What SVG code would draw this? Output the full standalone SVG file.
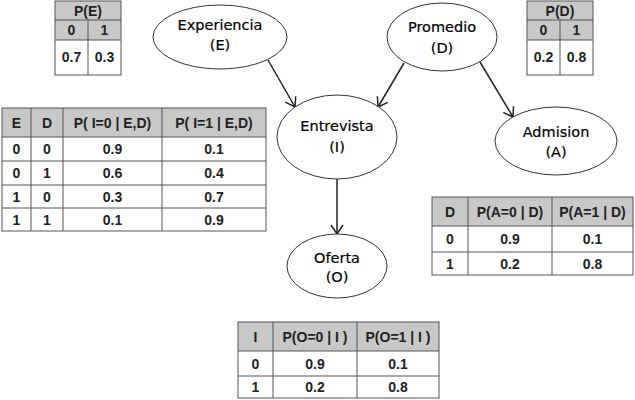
<svg xmlns="http://www.w3.org/2000/svg" width="635" height="400" viewBox="0 0 635 400">
<style>
.bg{fill:#fff}
.node ellipse{fill:#fff;stroke:#333;stroke-width:1}
.node text{font-family:"DejaVu Sans",sans-serif;font-size:14.5px;fill:#000;text-anchor:middle;stroke:#000;stroke-width:0.2}
.hd{fill:#c8c8c8}
.cell{fill:#fff}
.grid{stroke:#555;stroke-width:1;fill:none}
.t text{font-family:"Liberation Sans",Arial,sans-serif;font-size:14px;font-weight:bold;fill:#222;text-anchor:middle;dominant-baseline:central}
.edge{stroke:#222;stroke-width:1.5;fill:none;marker-end:url(#arr)}
</style>
<defs>
<marker id="arr" markerUnits="userSpaceOnUse" markerWidth="16" markerHeight="16" refX="12" refY="8" orient="auto">
<path d="M3,2 L12,8 L3,14" fill="none" stroke="#222" stroke-width="1.5"/>
</marker>
</defs>
<rect class="bg" x="0" y="0" width="635" height="400"/>

<g id="connectors">
<line class="edge" x1="268" y1="60" x2="295" y2="107"/>
<line class="edge" x1="404" y1="63" x2="378" y2="107"/>
<line class="edge" x1="337" y1="179" x2="337" y2="234"/>
<line class="edge" x1="480" y1="62" x2="513" y2="117"/>
</g>

<g id="node-E" class="node">
<ellipse cx="220" cy="37" rx="67" ry="32"/>
<text x="220" y="30">Experiencia</text>
<text x="220" y="50">(E)</text>
</g>
<g id="node-D" class="node">
<ellipse cx="442" cy="37" rx="55" ry="34"/>
<text x="442" y="32">Promedio</text>
<text x="442" y="53">(D)</text>
</g>
<g id="node-I" class="node">
<ellipse cx="337" cy="137" rx="60" ry="42"/>
<text x="337" y="131">Entrevista</text>
<text x="337" y="152">(I)</text>
</g>
<g id="node-O" class="node">
<ellipse cx="337" cy="266" rx="50" ry="32"/>
<text x="337" y="263">Oferta</text>
<text x="337" y="282">(O)</text>
</g>
<g id="node-A" class="node">
<ellipse cx="556" cy="141" rx="61" ry="34"/>
<text x="556" y="137">Admision</text>
<text x="556" y="157">(A)</text>
</g>

<g id="table-PE" class="t">
<rect class="hd" x="55" y="1" width="66" height="39"/>
<rect class="cell" x="55" y="40" width="66" height="35"/>
<rect class="grid" x="55" y="1" width="66" height="74"/>
<path class="grid" d="M55,20H121M55,40H121M88,20V75"/>
<text x="88" y="11">P(E)</text>
<text x="71.5" y="30">0</text><text x="104.5" y="30">1</text>
<text x="71.5" y="57">0.7</text><text x="104.5" y="57">0.3</text>
</g>

<g id="table-PD" class="t">
<rect class="hd" x="527" y="1" width="66" height="39"/>
<rect class="cell" x="527" y="40" width="66" height="35"/>
<rect class="grid" x="527" y="1" width="66" height="74"/>
<path class="grid" d="M527,20H593M527,40H593M560,20V75"/>
<text x="560" y="11">P(D)</text>
<text x="543.5" y="30">0</text><text x="576.5" y="30">1</text>
<text x="543.5" y="57">0.2</text><text x="576.5" y="57">0.8</text>
</g>

<g id="table-PI" class="t">
<rect class="hd" x="2" y="108" width="264" height="29"/>
<rect class="cell" x="2" y="137" width="264" height="94"/>
<rect class="grid" x="2" y="108" width="264" height="123"/>
<path class="grid" d="M2,137H266M2,161H266M2,185H266M2,208H266M31,108V231M63,108V231M162,108V231"/>
<text x="16.5" y="123">E</text><text x="47" y="123">D</text><text x="112.5" y="123">P( I=0 | E,D)</text><text x="214" y="123">P( I=1 | E,D)</text>
<text x="16.5" y="149">0</text><text x="47" y="149">0</text><text x="112.5" y="149">0.9</text><text x="214" y="149">0.1</text>
<text x="16.5" y="173">0</text><text x="47" y="173">1</text><text x="112.5" y="173">0.6</text><text x="214" y="173">0.4</text>
<text x="16.5" y="196.5">1</text><text x="47" y="196.5">0</text><text x="112.5" y="196.5">0.3</text><text x="214" y="196.5">0.7</text>
<text x="16.5" y="219.5">1</text><text x="47" y="219.5">1</text><text x="112.5" y="219.5">0.1</text><text x="214" y="219.5">0.9</text>
</g>

<g id="table-PA" class="t">
<rect class="hd" x="432" y="197" width="201" height="29"/>
<rect class="cell" x="432" y="226" width="201" height="49"/>
<rect class="grid" x="432" y="197" width="201" height="78"/>
<path class="grid" d="M432,226H633M432,252H633M468,197V275M552,197V275"/>
<text x="450" y="212">D</text><text x="510" y="212">P(A=0 | D)</text><text x="592.5" y="212">P(A=1 | D)</text>
<text x="450" y="239">0</text><text x="510" y="239">0.9</text><text x="592.5" y="239">0.1</text>
<text x="450" y="263.5">1</text><text x="510" y="263.5">0.2</text><text x="592.5" y="263.5">0.8</text>
</g>

<g id="table-PO" class="t">
<rect class="hd" x="238" y="322" width="201" height="29"/>
<rect class="cell" x="238" y="351" width="201" height="47"/>
<rect class="grid" x="238" y="322" width="201" height="76"/>
<path class="grid" d="M238,351H439M238,376H439M273,322V398M357,322V398"/>
<text x="255.5" y="337">I</text><text x="315" y="337">P(O=0 | I )</text><text x="398" y="337">P(O=1 | I )</text>
<text x="255.5" y="363.5">0</text><text x="315" y="363.5">0.9</text><text x="398" y="363.5">0.1</text>
<text x="255.5" y="387">1</text><text x="315" y="387">0.2</text><text x="398" y="387">0.8</text>
</g>
</svg>
